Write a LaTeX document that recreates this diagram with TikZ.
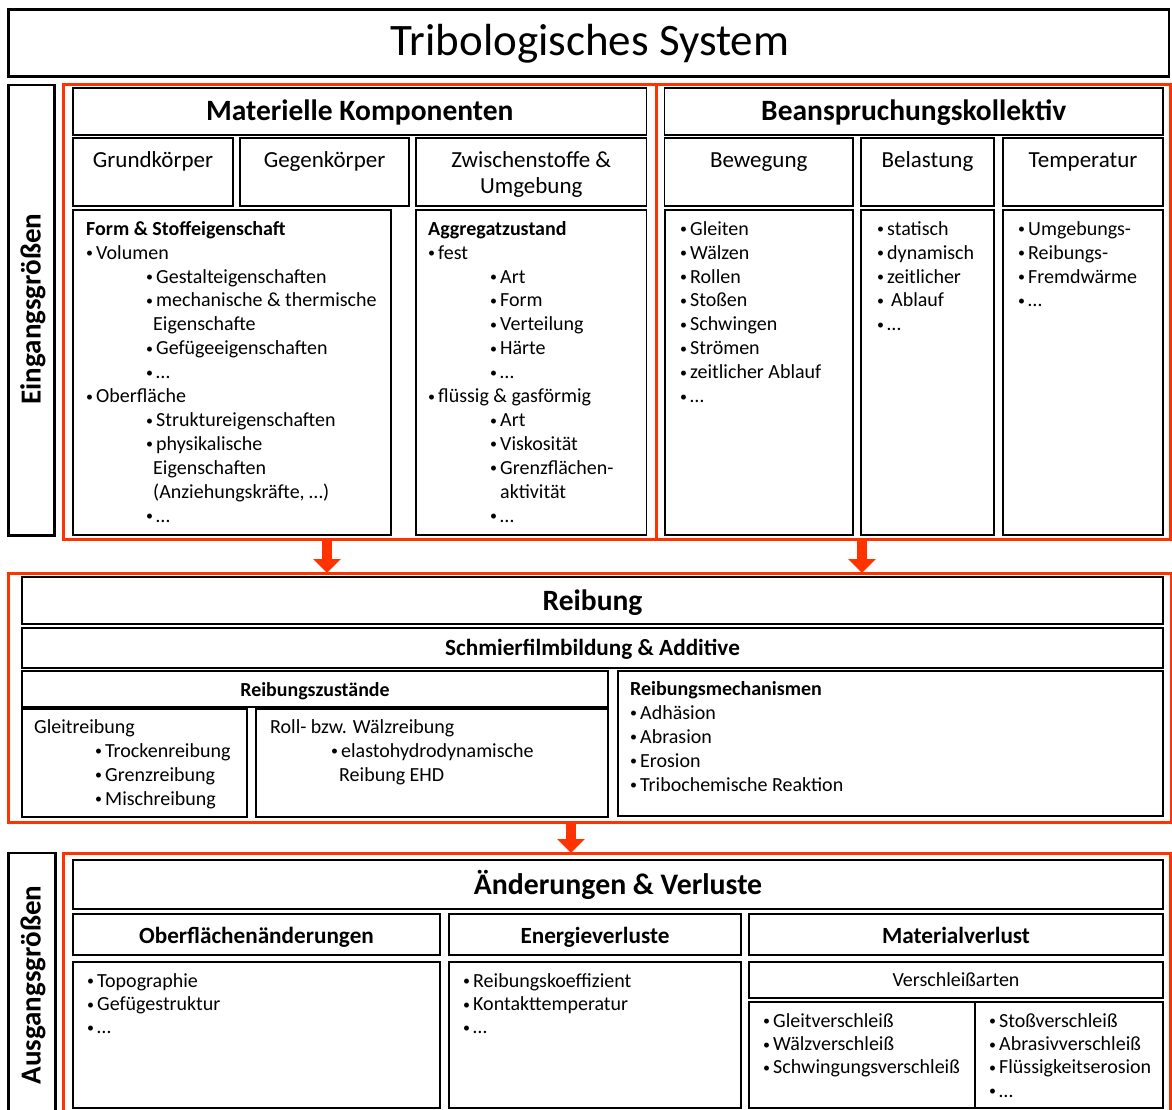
\documentclass[tikz,border=0pt]{standalone}
\usepackage{fontspec}
\setmainfont{Carlito}
\usetikzlibrary{arrows.meta}
\definecolor{rc}{RGB}{255,51,0}
\newcommand\bx[6][]{%
  \pgfmathsetmacro\bxw{#5-#3}\pgfmathsetmacro\bxh{#6-#4}%
  \node[#1, minimum width=\bxw pt, minimum height=\bxh pt, anchor=north west, inner sep=0pt, outer sep=0pt] (#2) at (#3,#4) {};}
\newcommand\bul{\makebox[10pt][l]{\raisebox{1.4pt}{\fontsize{14}{14}\selectfont •}}}
\newcommand\ind[1]{\hspace*{#1pt}}
\begin{document}
\begin{tikzpicture}[x=1pt,y=-1pt,
  box/.style={draw=black, line width=1.6pt},
  bbox/.style={draw=black, line width=2.8pt},
  rbox/.style={draw=rc, line width=3pt},
  lst/.style={anchor=north west, inner sep=0pt, align=left, font=\fontsize{20}{23.9}\selectfont},
  lstb/.style={anchor=north west, inner sep=0pt, align=left, font=\fontsize{20}{23.3}\selectfont},
  lstm/.style={anchor=north west, inner sep=0pt, align=left, font=\fontsize{20}{24}\selectfont},
  hd/.style={anchor=base, inner sep=0pt, font=\fontsize{29.5}{33}\selectfont\bfseries},
  hdm/.style={anchor=base, inner sep=0pt, font=\fontsize{23.2}{27}\selectfont\bfseries},
  hds/.style={anchor=base, inner sep=0pt, font=\fontsize{19.9}{23}\selectfont\bfseries},
  sub/.style={anchor=north, inner sep=0pt, align=center, font=\fontsize{23}{26}\selectfont},
  vlab/.style={anchor=base, inner sep=0pt, rotate=90, font=\fontsize{29}{32}\selectfont\bfseries},
  bigarrow/.style={rc, line width=10pt, -{Triangle[width=27pt,length=14pt]}},
]
\useasboundingbox (0,0) rectangle (1172,1110);
\fill[white] (0,0) rectangle (1172,1110);

% title
\bx[bbox]{title}{8.5}{9.5}{1169}{76.5}
\node[anchor=base, inner sep=0pt, font=\fontsize{45}{50}\selectfont] (titletxt) at (590,55.5) {Tribologisches System};

% Eingangsgroessen
\bx[bbox]{ein}{8.5}{85}{54.5}{535.5}
\node[vlab] (eintxt) at (40.5,309) {Eingangsgrößen};

\bx[rbox]{redA}{63.5}{85}{656}{539.5}
\bx[rbox]{redB}{656}{85}{1170.5}{539.5}

\bx[box]{matk}{73}{88}{646.5}{135}
\bx[box]{bean}{664.5}{88}{1163}{135}
\node[hd] (matktxt) at (359.75,121) {Materielle Komponenten};
\node[hd] (beantxt) at (913.75,121) {Beanspruchungskollektiv};

\bx[box]{grund}{73}{138}{233}{206}
\bx[box]{gegen}{240}{138}{409}{206}
\bx[box]{zwisch}{416}{138}{646.5}{206}
\bx[box]{beweg}{664.5}{138}{853}{206}
\bx[box]{belast}{861}{138}{994}{206}
\bx[box]{temp}{1003}{138}{1163}{206}
\node[sub] (grundtxt) at (153,148.8) {\strut Grundkörper};
\node[sub] (gegentxt) at (324.5,148.8) {\strut Gegenkörper};
\node[sub] (zwischtxt) at (531.25,148.8) {\strut Zwischenstoffe \&\\Umgebung};
\node[sub] (bewegtxt) at (758.75,148.8) {\strut Bewegung};
\node[sub] (belasttxt) at (927.5,148.8) {\strut Belastung};
\node[sub] (temptxt) at (1083,148.8) {\strut Temperatur};

\bx[box]{forml}{73}{210}{391}{535}
\bx[box]{aggrl}{416}{210}{646.5}{535}
\bx[box]{bewegl}{665}{210}{853}{535}
\bx[box]{belastl}{861}{210}{994}{535}
\bx[box]{templ}{1003}{210}{1163}{535}

\node[lst] (formtxt) at (86,218.3) {\strut\textbf{Form \& Stoffeigenschaft}\\
\bul Volumen\\
\ind{60}\bul Gestalteigenschaften\\
\ind{60}\bul mechanische \& thermische\\
\ind{67}Eigenschafte\\
\ind{60}\bul Gefügeeigenschaften\\
\ind{60}\bul …\\
\bul Oberfläche\\
\ind{60}\bul Struktureigenschaften\\
\ind{60}\bul physikalische\\
\ind{67}Eigenschaften\\
\ind{67}(Anziehungskräfte, …)\\
\ind{60}\bul …};

\node[lst] (aggrtxt) at (428,218.3) {\strut\textbf{Aggregatzustand}\\
\bul fest\\
\ind{62}\bul Art\\
\ind{62}\bul Form\\
\ind{62}\bul Verteilung\\
\ind{62}\bul Härte\\
\ind{62}\bul …\\
\bul flüssig \& gasförmig\\
\ind{62}\bul Art\\
\ind{62}\bul Viskosität\\
\ind{62}\bul Grenzflächen-\\
\ind{72}aktivität\\
\ind{62}\bul …};

\node[lst] (bewegtxt2) at (680,218.3) {\strut\bul Gleiten\\
\bul Wälzen\\
\bul Rollen\\
\bul Stoßen\\
\bul Schwingen\\
\bul Strömen\\
\bul zeitlicher Ablauf\\
\bul …};

\node[lst] (belasttxt2) at (877,218.3) {\strut\bul statisch\\
\bul dynamisch\\
\bul zeitlicher\\
\bul\hspace{4pt}Ablauf\\
\bul …};

\node[lst] (temptxt2) at (1018,218.3) {\strut\bul Umgebungs-\\
\bul Reibungs-\\
\bul Fremdwärme\\
\bul …};

% Reibung section
\bx[rbox]{redR}{8}{573}{1171}{822}
\bx[box]{reib}{22}{577}{1163}{624}
\bx[box]{schm}{22}{628}{1163}{668}
\bx[box]{rzust}{22}{671}{608}{707}
\bx[box]{gleit}{22}{709}{247}{817}
\bx[box]{roll}{256}{709}{608}{817}
\bx[box]{rmech}{618}{671}{1163}{816}
\node[hd] (reibtxt) at (592.5,610) {Reibung};
\node[hdm] (schmtxt) at (592.5,655) {Schmierfilmbildung \& Additive};
\node[hds] (rzusttxt) at (315,696) {Reibungszustände};
\node[lstm] (rmechtxt) at (630,678.2) {\strut\textbf{Reibungsmechanismen}\\
\bul Adhäsion\\
\bul Abrasion\\
\bul Erosion\\
\bul Tribochemische Reaktion};
\node[lstm] (gleittxt) at (34,716.2) {\strut Gleitreibung\\
\ind{61}\bul Trockenreibung\\
\ind{61}\bul Grenzreibung\\
\ind{61}\bul Mischreibung};
\node[lstm] (rolltxt) at (270,716.2) {\strut Roll- bzw. Wälzreibung\\
\ind{61}\bul elastohydrodynamische\\
\ind{69}Reibung EHD};

% Bottom section
\bx[rbox]{redC}{63.5}{853}{1170.5}{1130}
\bx[bbox]{aus}{8.5}{853}{55.5}{1130}
\node[vlab] (austxt) at (40.5,985) {Ausgangsgrößen};
\bx[box]{aend}{73}{860}{1163}{909}
\bx[box]{ober}{73}{914}{440}{955}
\bx[box]{energ}{449}{914}{741}{955}
\bx[box]{matv}{749}{914}{1163}{955}
\bx[box]{oberl}{73}{962}{440}{1108}
\bx[box]{energl}{449}{962}{741}{1108}
\bx[box]{versch}{749}{962}{1163}{998}
\bx[box]{vl1}{749}{1002}{975}{1108}
\bx[box]{vl2}{975}{1002}{1163}{1108}
\node[anchor=base, inner sep=0pt, font=\fontsize{29.8}{33}\selectfont\bfseries] (aendtxt) at (618,894) {Änderungen \& Verluste};
\node[hdm] (obertxt) at (256.5,943) {Oberflächenänderungen};
\node[hdm] (energtxt) at (595,943) {Energieverluste};
\node[hdm] (matvtxt) at (956,943) {Materialverlust};
\node[anchor=base, inner sep=0pt, font=\fontsize{20}{23}\selectfont] (verschtxt) at (956,986) {Verschleißarten};
\node[lstb] (oberltxt) at (87,970.7) {\strut\bul Topographie\\
\bul Gefügestruktur\\
\bul …};
\node[lstb] (energltxt) at (463,970.7) {\strut\bul Reibungskoeffizient\\
\bul Kontakttemperatur\\
\bul …};
\node[lstb] (vl1txt) at (763,1010.7) {\strut\bul Gleitverschleiß\\
\bul Wälzverschleiß\\
\bul Schwingungsverschleiß};
\node[lstb] (vl2txt) at (989,1010.7) {\strut\bul Stoßverschleiß\\
\bul Abrasivverschleiß\\
\bul Flüssigkeitserosion\\
\bul …};

% arrows
\coordinate (a1) at (327,0);
\coordinate (a2) at (862,0);
\coordinate (a3) at (571,0);
\draw[bigarrow] (redA.south -| a1) -- (redR.north -| a1);
\draw[bigarrow] (redB.south -| a2) -- (redR.north -| a2);
\draw[bigarrow] (redR.south -| a3) -- (redC.north -| a3);
\end{tikzpicture}
\end{document}
